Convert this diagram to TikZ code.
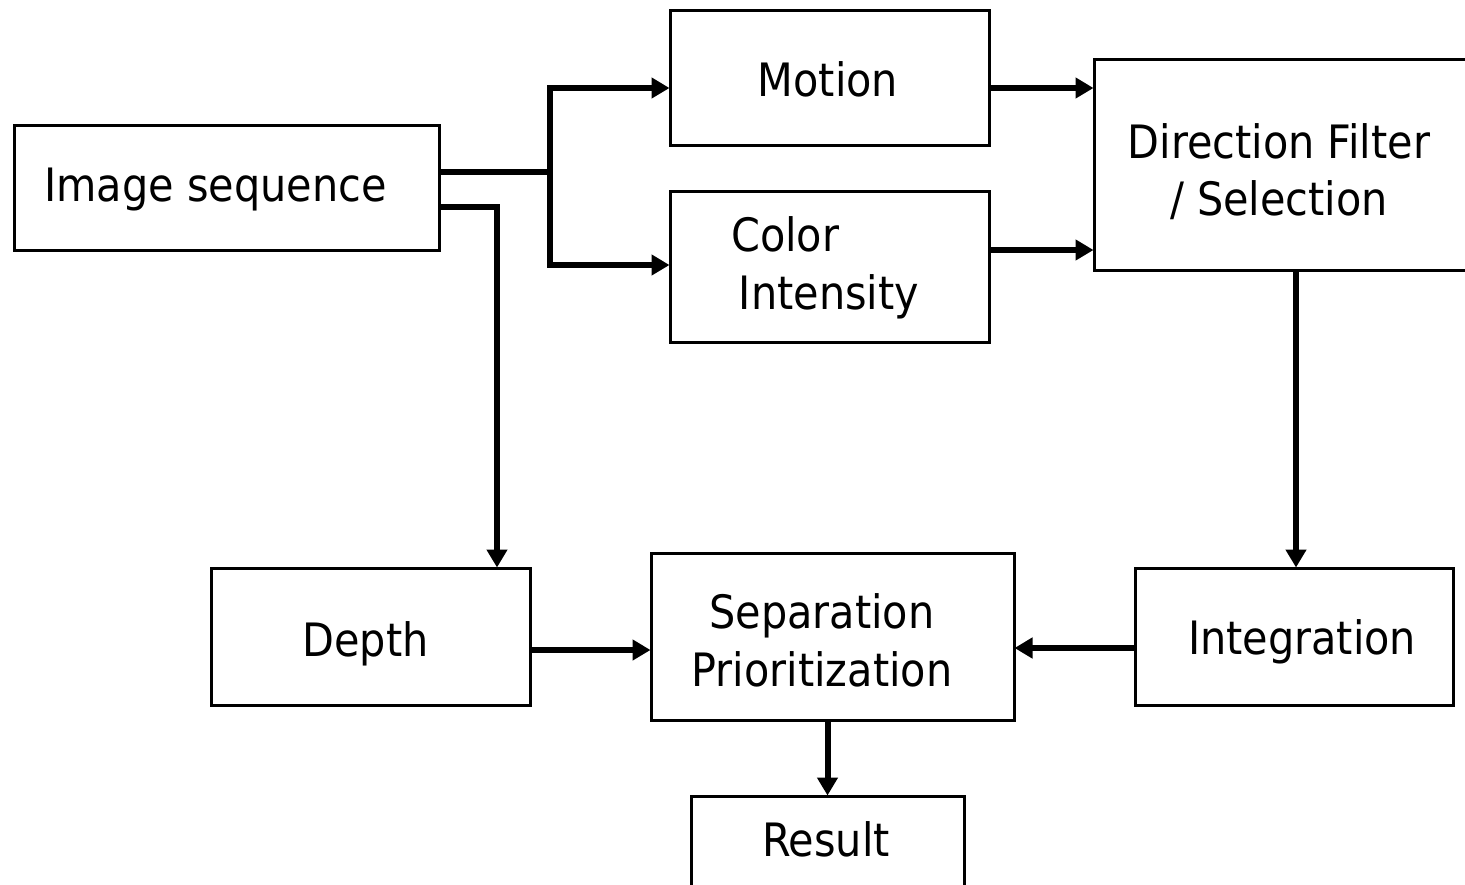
\documentclass[tikz,border=0pt]{standalone}
\usepackage{fontspec}
\setmainfont{DejaVu Sans Condensed}
\usetikzlibrary{arrows.meta}
\begin{document}
\begin{tikzpicture}[x=1pt,y=-1pt,
  box/.style={draw=black, line width=3pt, rectangle, inner sep=0pt},
  label/.style={inner sep=0pt, font=\fontsize{46}{58}\selectfont},
  conn/.style={line width=6pt, line join=miter},
  arr/.style={conn, -{Triangle[length=18pt,width=20pt]}, shorten >=-1pt}]
\useasboundingbox (0,0) rectangle (1465,884);
\clip (0,0) rectangle (1465,884);

% processing stages
\node[box, minimum width=425pt, minimum height=125pt] (img) at (226.5,187.5) {};
\node[label] (imgtxt) at (215.5,189.5) {Image sequence};
\node[box, minimum width=319pt, minimum height=135pt] (motion) at (829.5,77.5) {};
\node[label] (motiontxt) at (828,79.5) {Motion};
\node[box, minimum width=319pt, minimum height=151pt] (color) at (829.5,266.5) {};
\node[label, align=left, anchor=west] (colortxt) at (731,268) {Color\\\,Intensity};
\node[box, minimum width=380pt, minimum height=211pt] (dir) at (1284,164.5) {};
\node[label, align=center, font=\fontsize{46}{57}\selectfont] (dirtxt) at (1279,172) {Direction Filter\\/ Selection};
\node[box, minimum width=319pt, minimum height=137pt] (depth) at (370.5,636.5) {};
\node[label] (depthtxt) at (365.5,643.5) {Depth};
\node[box, minimum width=363pt, minimum height=167pt] (sep) at (832.5,636.5) {};
\node[label, align=center] (septxt) at (822,640.5) {Separation\\Prioritization};
\node[box, minimum width=318pt, minimum height=137pt] (integ) at (1294,636.5) {};
\node[label] (integtxt) at (1302,641.5) {Integration};
\node[box, minimum width=273pt, minimum height=120pt] (result) at (827.5,856) {};
\node[label] (restxt) at (826,839) {Result};

% connectors
\coordinate (split) at (550,172);
\draw[conn] ([yshift=15.5pt]img.east) -- (split);
\draw[arr] (split) |- ([yshift=-10.5pt]motion.west);
\draw[arr] (split) |- ([yshift=1.5pt]color.west);
\draw[arr] ([yshift=-19.5pt]img.east) -| ([xshift=126.5pt]depth.north);
\draw[arr] ([yshift=-10.5pt]motion.east) -- ([yshift=-10.5pt]motion.east -| dir.west);
\draw[arr] ([yshift=16.5pt]color.east) -- ([yshift=16.5pt]color.east -| dir.west);
\draw[arr] ([xshift=12pt]dir.south) -- ([xshift=12pt]dir.south |- integ.north);
\draw[arr] ([yshift=-11.5pt]integ.west) -- ([yshift=-11.5pt]integ.west -| sep.east);
\draw[arr] ([yshift=-13.5pt]depth.east) -- ([yshift=-13.5pt]depth.east -| sep.west);
\draw[arr] (result.north |- sep.south) -- (result.north);
\end{tikzpicture}
\end{document}
